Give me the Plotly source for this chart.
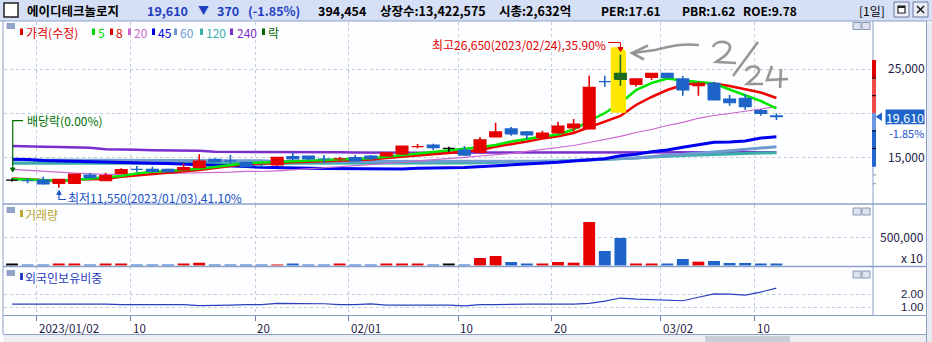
import plotly.graph_objects as go

W, H = 932, 342
FONT = "Noto Sans CJK KR, Noto Sans, sans-serif"

# ---------------- data ----------------
dates = ["2022-12-28", "2022-12-29", "2023-01-02", "2023-01-03", "2023-01-04", "2023-01-05", "2023-01-06",
         "2023-01-09", "2023-01-10", "2023-01-11", "2023-01-12", "2023-01-13", "2023-01-16", "2023-01-17",
         "2023-01-18", "2023-01-19", "2023-01-20", "2023-01-25", "2023-01-26", "2023-01-27", "2023-01-30",
         "2023-01-31", "2023-02-01", "2023-02-02", "2023-02-03", "2023-02-06", "2023-02-07", "2023-02-08",
         "2023-02-09", "2023-02-10", "2023-02-13", "2023-02-14", "2023-02-15", "2023-02-16", "2023-02-17",
         "2023-02-20", "2023-02-21", "2023-02-22", "2023-02-23", "2023-02-24", "2023-02-27", "2023-02-28",
         "2023-03-02", "2023-03-03", "2023-03-06", "2023-03-07", "2023-03-08", "2023-03-09", "2023-03-10",
         "2023-03-13"]

opens = [12420, 12400, 12420, 12050, 12050, 12990, 12340, 13180, 13680, 13640,
         13640, 13560, 13820, 14770, 14650, 14390, 14050, 14130, 15070, 15150,
         14850, 14820, 14960, 15150, 15150, 15380, 16220, 16400, 16020, 15830,
         15570, 17310, 18220, 17880, 17230, 17760, 18330, 18220, 23650, 24540,
         23290, 24090, 24540, 23900, 23140, 23410, 21620, 21700, 20300, 19700]
highs = [12600, 12620, 12800, 12500, 13100, 13250, 13250, 13750, 14000, 13930,
         13700, 14320, 15340, 14900, 15260, 14450, 14250, 15000, 15520, 15150,
         15260, 15070, 15260, 15260, 15600, 16280, 16510, 16550, 16200, 16280,
         17320, 18930, 18440, 17950, 18020, 19050, 19350, 24270, 24270, 26650,
         23900, 24540, 24600, 24240, 23590, 23590, 22080, 22160, 20490, 20000]
lows = [12250, 12050, 11910, 11550, 12000, 12650, 12340, 13180, 13300, 13370,
        13350, 13500, 13800, 14450, 14240, 13880, 13900, 14050, 14690, 14690,
        14350, 14620, 14580, 14700, 15100, 15260, 16020, 15830, 15640, 15200,
        15500, 17300, 17450, 17050, 17200, 17700, 17910, 18200, 23020, 23140,
        23020, 23780, 24000, 22000, 22000, 21500, 20860, 20370, 19730, 19240]
closes = [12420, 12340, 11970, 12500, 13100, 12690, 12910, 13600, 13620, 13410,
          13370, 13820, 14580, 14500, 14600, 13930, 13980, 15000, 14810, 14810,
          14810, 14900, 14580, 14890, 15520, 16280, 16280, 16090, 16020, 15260,
          16970, 17880, 17650, 17540, 17760, 18560, 18780, 22950, 23590, 23860,
          23900, 24540, 24040, 22650, 23410, 21510, 21200, 20750, 19980, 19610]
volume = [22000, 14000, 17000, 21000, 19000, 15000, 20000, 18000, 14000, 13000,
          16000, 18000, 50000, 15000, 14000, 16000, 13000, 17000, 18000, 14000,
          15000, 19000, 14000, 13000, 18000, 35000, 22000, 16000, 18000, 15000,
          134000, 170000, 62000, 27000, 32000, 62000, 50000, 777000, 259000, 491000,
          32000, 32000, 32000, 116000, 68000, 80000, 45000, 45000, 32000, 32000]

ma5 = [12537, 12446, 12366, 12343, 12423, 12593, 12707, 12877, 13161, 13355,
       13446, 13559, 13695, 13900, 14104, 14320, 14411, 14434, 14547, 14615,
       14718, 14774, 14831, 14888, 15070, 15263, 15433, 15627, 15831, 15967,
       16138, 16399, 16797, 17104, 17365, 17592, 18160, 19126, 20034, 21136,
       22647, 23442, 23954, 23726, 23522, 23385, 22704, 22022, 21397, 20568]
ma8 = [12593, 12480, 12366, 12309, 12480, 12502, 12537, 12798, 12957, 13071,
       13241, 13355, 13559, 13786, 14013, 14240, 14297, 14320, 14434, 14502,
       14559, 14604, 14661, 14752, 14922, 15036, 15149, 15343, 15490, 15661,
       15831, 16195, 16456, 16797, 17138, 17388, 17763, 18387, 19069, 19693,
       20943, 21852, 22647, 23215, 23476, 23385, 23101, 22738, 22363, 21738]
ma20 = [13639, 13502, 13411, 13309, 13218, 13127, 13071, 13071, 13071, 13105,
        13161, 13184, 13184, 13241, 13309, 13400, 13389, 13468, 13582, 13695,
        13809, 13900, 14013, 14150, 14320, 14411, 14604, 14718, 14865, 15002,
        15149, 15263, 15433, 15683, 15888, 16115, 16342, 16683, 17024, 17388,
        17820, 18160, 18615, 18978, 19433, 19751, 19978, 20205, 20489, 20750]
ma45 = [14775, 14752, 14638, 14582, 14582, 14525, 14434, 14411, 14377, 14320,
        14297, 14240, 14184, 14104, 14047, 13956, 13866, 13809, 13764, 13752,
        13741, 13730, 13718, 13695, 13684, 13673, 13752, 13820, 13820, 13843,
        13934, 14047, 14184, 14206, 14320, 14434, 14582, 14695, 14843, 15184,
        15343, 15638, 15831, 16138, 16399, 16706, 16740, 16854, 17195, 17343]
ma60 = [14695, 14695, 14695, 14695, 14695, 14695, 14695, 14695, 14695, 14695,
        14615, 14615, 14615, 14615, 14615, 14615, 14615, 14525, 14525, 14525,
        14525, 14525, 14525, 14525, 14525, 14525, 14502, 14502, 14502, 14502,
        14502, 14502, 14547, 14547, 14547, 14547, 14638, 14695, 14775, 14843,
        14922, 15070, 15263, 15343, 15433, 15604, 15751, 15944, 16058, 16206]
ma120 = [14320, 14320, 14320, 14320, 14320, 14320, 14320, 14320, 14320, 14320,
         14320, 14297, 14297, 14297, 14297, 14297, 14297, 14297, 14297, 14297,
         14297, 14297, 14297, 14297, 14297, 14297, 14297, 14297, 14297, 14354,
         14389, 14411, 14434, 14502, 14525, 14582, 14638, 14695, 14775, 14831,
         14922, 15036, 15149, 15206, 15263, 15320, 15433, 15467, 15490, 15513]
ma240 = [16286, 16206, 16206, 16172, 16092, 16092, 15911, 15911, 15854, 15798,
         15798, 15798, 15740, 15638, 15638, 15638, 15604, 15570, 15570, 15570,
         15570, 15570, 15547, 15524, 15524, 15524, 15524, 15524, 15524, 15524,
         15524, 15524, 15524, 15524, 15524, 15524, 15524, 15524, 15524, 15524,
         15524, 15581, 15581, 15581, 15581, 15581, 15581, 15581, 15581, 15581]
foreign = [1.22, 1.22, 1.22, 1.22, 1.25, 1.22, 1.22, 1.19, 1.19, 1.19,
           1.19, 1.19, 1.10, 1.15, 1.15, 1.19, 1.19, 1.28, 1.28, 1.25,
           1.25, 1.18, 1.18, 1.24, 1.15, 1.15, 1.15, 1.15, 1.15, 1.09,
           1.19, 1.19, 1.22, 1.22, 1.22, 1.22, 1.22, 1.28, 1.45, 1.69,
           1.60, 1.57, 1.50, 1.48, 1.75, 2.01, 1.99, 1.92, 2.15, 2.45]

tick_dates = ["2023-01-02", "2023-01-10", "2023-01-20", "2023-02-01",
              "2023-02-10", "2023-02-20", "2023-03-02", "2023-03-10"]
tick_labels = ["2023/01/02", "10", "20", "02/01", "10", "20", "03/02", "10"]
price_ticks = [15000, 20000, 25000]
price_ticktext = ["15,000", "", "25,000"]
vol_ticks = [500000]
vol_ticktext = ["500,000"]
for_ticks = [1.0, 2.0]
for_ticktext = ["1.00", "2.00"]

highlight_date = "2023-02-24"
exdiv_date = "2022-12-28"
low_date = "2023-01-03"
last_price = 19610

# ---------------- helpers ----------------
n = len(dates)
xs = list(range(n))
hi_idx = dates.index(highlight_date)
tick_x = [dates.index(d) - 0.4 for d in tick_dates]

RED, BLUE, BLACK, HLC = "#E60000", "#1E64C8", "#000000", "#1F6A1F"


def PX(x):
    return x / W


def PY(y):
    return 1 - y / H


def base_color(i):
    if closes[i] > opens[i]:
        return RED
    if closes[i] < opens[i]:
        return BLUE
    return BLACK


def cand_color(i):
    return HLC if i == hi_idx else base_color(i)


fig = go.Figure()

# moving averages (drawn first)
ma_specs = [(ma240, "#7A2ECC", 2.5), (ma120, "#3AAFA9", 3), (ma60, "#6E9BD0", 3),
            (ma45, "#0000F0", 3), (ma20, "#CC66CC", 1.2), (ma8, "#F00000", 2.5),
            (ma5, "#00E600", 2.5)]
for vals, col, wdt in ma_specs:
    fig.add_trace(go.Scatter(x=xs, y=vals, mode="lines", line=dict(color=col, width=wdt),
                             hoverinfo="skip", xaxis="x", yaxis="y"))

# yellow marker highlight (hand-drawn style) behind highlighted candle
hx0, hx1 = hi_idx - 0.62, hi_idx + 0.36
htop, hbot = 27500, 20070
fig.add_trace(go.Scatter(x=[hx0, hi_idx + 0.12, hx1, hx1, hx0, hx0],
                         y=[htop, htop, 26960, hbot, hbot, htop],
                         mode="lines", fill="toself", fillcolor="#FFE800",
                         line=dict(color="#FFE800", width=0), hoverinfo="skip",
                         xaxis="x", yaxis="y"))

# candles
groups = {}
for i in range(n):
    groups.setdefault(cand_color(i), []).append(i)
hw = 0.38
for col, idxs in groups.items():
    wx, wy, bx, by = [], [], [], []
    for i in idxs:
        wx += [i, i, None]
        wy += [lows[i], highs[i], None]
        lo, hi = min(opens[i], closes[i]), max(opens[i], closes[i])
        bx += [i - hw, i + hw, i + hw, i - hw, i - hw, None]
        by += [lo, lo, hi, hi, lo, None]
    fig.add_trace(go.Scatter(x=wx, y=wy, mode="lines", line=dict(color=col, width=1.6),
                             hoverinfo="skip", xaxis="x", yaxis="y"))
    fig.add_trace(go.Scatter(x=bx, y=by, mode="lines", fill="toself", fillcolor=col,
                             line=dict(color=col, width=1.2), hoverinfo="skip",
                             xaxis="x", yaxis="y"))

# volume
fig.add_trace(go.Bar(x=xs, y=volume, width=0.76, marker=dict(color=[base_color(i) for i in xs], line=dict(width=0)),
                     hoverinfo="skip", xaxis="x", yaxis="y2"))

# foreign ownership ratio
fig.add_trace(go.Scatter(x=xs, y=foreign, mode="lines", line=dict(color="#2A3FC0", width=1.2),
                         hoverinfo="skip", xaxis="x", yaxis="y3"))

# ---------------- shapes ----------------
shapes = []


def rect(x0, y0, x1, y1, fill, line=None, lw=0, layer="above"):
    shapes.append(dict(type="rect", xref="paper", yref="paper", x0=PX(x0), x1=PX(x1),
                       y0=PY(y0), y1=PY(y1), fillcolor=fill, layer=layer,
                       line=dict(color=line or fill, width=lw)))


def line(x0, y0, x1, y1, col, lw=1, dash="solid", layer="above"):
    shapes.append(dict(type="line", xref="paper", yref="paper", x0=PX(x0), x1=PX(x1),
                       y0=PY(y0), y1=PY(y1), layer=layer, line=dict(color=col, width=lw, dash=dash)))


def path(cmds, col, lw=1, fill=None, opacity=1.0):
    parts = []
    for c in cmds:
        if c[0] == "Z":
            parts.append("Z")
        else:
            nums = c[1:]
            pts = []
            for k in range(0, len(nums), 2):
                pts.append(f"{PX(nums[k]):.5f},{PY(nums[k + 1]):.5f}")
            parts.append(c[0] + " " + " ".join(pts))
    shapes.append(dict(type="path", xref="paper", yref="paper", path=" ".join(parts),
                       line=dict(color=col, width=lw), fillcolor=fill or "rgba(0,0,0,0)",
                       opacity=opacity, layer="above"))


FRAME = "#8CA0C8"
# title bar
rect(0, 0, 932, 21, "#D5DFF5")
line(0, 21, 932, 21, FRAME, 1)
rect(4, 3, 18, 17, "#FFFFFF", "#202020", 1.5)
rect(894, 2, 909, 17, "#E9EDF5", "#6A78A0", 1)
rect(898, 6, 905, 13, "#FFFFFF", "#202020", 1.2)
line(898, 7, 905, 7, "#202020", 2)
rect(913, 2, 928, 17, "#E9EDF5", "#6A78A0", 1)
line(917, 6, 924, 13, "#202020", 1.6)
line(924, 6, 917, 13, "#202020", 1.6)

# frames
line(3, 21, 3, 334, FRAME, 1)
line(873, 21, 873, 315, FRAME, 1)
line(926.5, 21, 926.5, 342, FRAME, 1)
line(3, 204, 926.5, 204, FRAME, 1.5)
line(3, 266.5, 926.5, 266.5, FRAME, 1.5)
line(3, 315.5, 926.5, 315.5, FRAME, 1)
line(3, 334.5, 926.5, 334.5, FRAME, 1)
rect(927, 21, 932, 342, "#E8EBF1")
rect(3.5, 335, 926, 342, "#ECEEF2")
rect(705, 336, 790, 342, "#C9CDD6")

# panel icons
for yy in (23, 207, 270):
    rect(6.5, yy, 15, yy + 6, "#91A3C6")
for yy in (22.5, 208, 271):
    rect(853, yy, 861, yy + 7, "#DCE2EE", "#8A96B4", 1)
    rect(862, yy, 870, yy + 7, "#DCE2EE", "#8A96B4", 1)

# legend markers in price panel
leg = [(20, "#E00000"), (92, "#00D800"), (110, "#E00000"), (128, "#CC66CC"), (152, "#0000E0"),
       (174, "#6E9BD0"), (200, "#3AAFA9"), (230, "#7A2ECC"), (262, "#006600")]
for x0, c in leg:
    rect(x0, 28.5, x0 + 3, 35, c)
rect(20, 210, 23, 217, "#B8A830")
rect(20, 273, 23, 280, "#2A3FC0")

# price range bar on the axis (data-referenced vertically)
for p0, p1, c in [(23976, 26055, "#E00000"), (20034, 23976, "#F04A4A"),
                  (18103, 20034, "#6C96E0"), (13934, 18103, "#2266D0")]:
    shapes.append(dict(type="rect", xref="paper", yref="y", x0=PX(872), x1=PX(876), y0=p0, y1=p1,
                       fillcolor=c, line=dict(width=0), layer="above"))
for p in (24000, 22000, 18000, 16000):
    shapes.append(dict(type="line", xref="paper", yref="y", x0=PX(872), x1=PX(876), y0=p, y1=p,
                       line=dict(color="#000000", width=1), layer="above"))
for p in (13000, 12000):
    shapes.append(dict(type="line", xref="paper", yref="y", x0=PX(873), x1=PX(876), y0=p, y1=p,
                       line=dict(color="#8090B0", width=1), layer="above"))
# current price pointer
shapes.append(dict(type="path", xref="paper", yref="y",
                   path=f"M {PX(875.5)},{last_price} L {PX(882)},{last_price + 480} L {PX(882)},{last_price - 480} Z",
                   fillcolor="#1E64C8", line=dict(width=0), layer="above"))

# high marker bracket (red)
path([("M", 608, 42.5), ("L", 620.5, 42.5), ("L", 620.5, 48)], "#E00000", 1)
path([("M", 618, 47.5), ("L", 623, 47.5), ("L", 620.5, 51.5), ("Z",)], "#E00000", 1, fill="#E00000")
# ex-dividend bracket (green)
path([("M", 23, 120.7), ("L", 12.7, 120.7), ("L", 12.7, 169)], "#007000", 1.2)
path([("M", 10.4, 168), ("L", 15, 168), ("L", 12.7, 172), ("Z",)], "#007000", 1, fill="#007000")
# low marker bracket (blue)
path([("M", 66, 199.5), ("L", 59, 199.5), ("L", 59, 193.5)], "#2050C8", 1.2)
path([("M", 56.8, 194.5), ("L", 61.2, 194.5), ("L", 59, 190.5), ("Z",)], "#2050C8", 1, fill="#2050C8")

# hand-drawn gray arrow and "2/24"
HG = "#8C8C8C"
path([("M", 699, 45), ("C", 680, 43, 668, 47, 655, 50), ("L", 633, 53)], HG, 2.6, opacity=0.9)
path([("M", 648, 45.5), ("L", 632, 53), ("L", 644, 59.5)], HG, 2.6, opacity=0.9)
path([("M", 713, 47), ("C", 715, 40, 731, 40, 730, 48), ("C", 729, 55, 720, 59, 716, 62), ("L", 736, 63)], HG, 2.6, opacity=0.9)
path([("M", 758, 42), ("L", 733, 76)], HG, 2.6, opacity=0.9)
path([("M", 746, 71), ("C", 748, 65, 760, 65, 759, 71), ("C", 758, 76, 751, 80, 747, 84), ("L", 763, 84)], HG, 2.6, opacity=0.9)
path([("M", 772, 66), ("L", 767, 80), ("L", 788, 79)], HG, 2.6, opacity=0.9)
path([("M", 781, 69), ("L", 780, 88)], HG, 2.6, opacity=0.9)

# ---------------- annotations ----------------
anns = []


def txt(x, y, s, color, size=12, xanchor="left", bold=False, xref="paper", yref="paper", **kw):
    xx = PX(x) if xref == "paper" else x
    yy = PY(y) if yref == "paper" else y
    anns.append(dict(x=xx, y=yy, xref=xref, yref=yref, text=f"<b>{s}</b>" if bold else s,
                     showarrow=False, xanchor=xanchor, yanchor="middle",
                     font=dict(family=FONT, size=size, color=color), **kw))


# title bar
TB = 10.5
txt(25, TB, "에이디테크놀로지", "#000000", 12.5, bold=True)
txt(145, TB, "19,610", "#1E3FC0", 12.5, bold=True)
txt(196, TB, "▼", "#1E3FC0", 11, bold=True)
txt(215, TB, "370", "#1E3FC0", 12.5, bold=True)
txt(246, TB, "(-1.85%)", "#1E3FC0", 12.5, bold=True)
txt(316, TB, "394,454", "#000000", 12.5, bold=True)
txt(378, TB, "상장수:13,422,575", "#000000", 12.5, bold=True)
txt(497, TB, "시총:2,632억", "#000000", 12.5, bold=True)
txt(599, TB, "PER:17.61", "#000000", 12, bold=True)
txt(680, TB, "PBR:1.62", "#000000", 12, bold=True)
txt(741, TB, "ROE:9.78", "#000000", 12, bold=True)
txt(857, TB, "[1일]", "#000000", 12)

# legend texts
LY = 32
for x0, s, c in [(24, "가격(수정)", "#E00000"), (95.5, "5", "#00D800"), (113.5, "8", "#E00000"),
                 (131.5, "20", "#CC66CC"), (155.5, "45", "#0000E0"), (178, "60", "#6E9BD0"),
                 (204, "120", "#3AAFA9"), (235, "240", "#7A2ECC"), (265.5, "락", "#006600")]:
    txt(x0, LY, s, c, 12)
txt(23, 214, "거래량", "#B8A830", 12)
txt(23, 277, "외국인보유비중", "#2A3FC0", 12)

# chart annotations
txt(608, 44.5, "최고26,650(2023/02/24),35.90%", "#E00000", 12, xanchor="right")
txt(24.5, 120, "배당락(0.00%)", "#007000", 12)
txt(65.5, 197.3, "최저11,550(2023/01/03),41.10%", "#2050C8", 12)

# current price box
anns.append(dict(x=PX(925), y=last_price, xref="paper", yref="y", text="19,610", showarrow=False,
                 xanchor="right", yanchor="middle", bgcolor="#1E64C8", width=38, height=14, borderpad=0,
                 font=dict(family=FONT, size=12.5, color="#FFFFFF")))
txt(925, 132.5, "-1.85%", "#2050C8", 11, xanchor="right", bgcolor="#FFFFFF", borderpad=0)
txt(925, 257, "x 10", "#1C2045", 12, xanchor="right")

# foreign-ratio axis labels, placed through the y3 scale (compact font metrics)
for v, s in zip(for_ticks, for_ticktext):
    anns.append(dict(x=PX(924), y=v, xref="paper", yref="y3", text=s, showarrow=False,
                     xanchor="right", yanchor="middle", borderpad=0,
                     font=dict(family="Liberation Sans, Arial, sans-serif", size=11.5, color="#1C2045")))

# x-axis labels (left-aligned at tick)
for tx, tl in zip(tick_x, tick_labels):
    anns.append(dict(x=tx, y=PY(327.5), xref="x", yref="paper", text=tl, showarrow=False,
                     xanchor="left", yanchor="middle",
                     font=dict(family=FONT, size=11.5, color="#1C2045")))

GRID = "#C6CBD6"
TICKF = dict(family=FONT, size=12, color="#1C2045")
fig.update_layout(
    width=W, height=H, margin=dict(l=0, r=0, t=0, b=0),
    paper_bgcolor="#FFFFFF", plot_bgcolor="#FDFEFF",
    showlegend=False, barmode="overlay",
    shapes=shapes, annotations=anns,
    xaxis=dict(domain=[PX(3.5), PX(873)], range=[(3.5 - 12) / 15.6, (873 - 12) / 15.6],
               anchor="y3", tickvals=tick_x, showticklabels=False, ticks="outside", ticklen=5,
               tickcolor="#6A78A0", showgrid=True, gridcolor=GRID, griddash="dot", gridwidth=1,
               zeroline=False, showline=False, fixedrange=True),
    yaxis=dict(domain=[PY(203.5), PY(21.5)], range=[32871 - 113.6 * 203.5, 32871 - 113.6 * 21.5],
               side="right", anchor="x", tickvals=price_ticks, ticktext=price_ticktext,
               ticks="", ticklabelstandoff=14, tickfont=TICKF, showgrid=True, gridcolor=GRID,
               griddash="dot", zeroline=False, showline=False, fixedrange=True),
    yaxis2=dict(domain=[PY(266), PY(204.5)], range=[-8929, (265.5 - 204.5) * 17857],
                side="right", anchor="x", tickvals=vol_ticks, ticktext=vol_ticktext,
                ticks="", ticklabelstandoff=6, tickfont=TICKF, showgrid=True, gridcolor=GRID,
                griddash="dot", zeroline=False, showline=False, fixedrange=True),
    yaxis3=dict(domain=[PY(315), PY(267)], range=[2 + (294 - 315) / 13, 2 + (294 - 267) / 13],
                side="right", anchor="x", tickvals=for_ticks, showticklabels=False,
                ticks="", showgrid=True, gridcolor=GRID,
                griddash="dot", zeroline=False, showline=False, fixedrange=True),
)

fig.write_html("out.html")
